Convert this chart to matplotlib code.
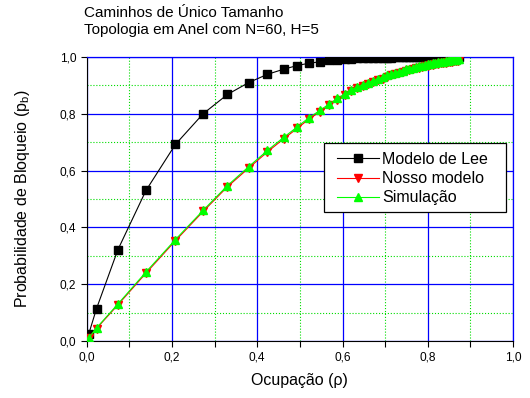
import matplotlib
matplotlib.use("Agg")
import matplotlib.pyplot as plt
from matplotlib.patches import Rectangle
from matplotlib.ticker import MultipleLocator, FuncFormatter

plt.rcParams['font.family'] = ['Liberation Sans', 'DejaVu Sans']

# occupancy (rho) values shared by all three series
rho = [0.005, 0.023, 0.073, 0.139, 0.208, 0.273, 0.330, 0.380, 0.424, 0.462,
       0.494, 0.521, 0.547, 0.569, 0.588, 0.605, 0.619, 0.635, 0.648, 0.660,
       0.672, 0.683, 0.694, 0.704, 0.714, 0.723, 0.732, 0.741, 0.749, 0.757,
       0.765, 0.772, 0.779, 0.786, 0.793, 0.800, 0.806, 0.812, 0.818, 0.824,
       0.830, 0.836, 0.842, 0.847, 0.852, 0.857, 0.862, 0.866, 0.870, 0.874]

lee = [0.026, 0.114, 0.321, 0.530, 0.692, 0.800, 0.868, 0.910, 0.939, 0.957,
       0.970, 0.978, 0.983, 0.988, 0.990, 0.992, 0.994, 0.995, 0.996, 0.996,
       0.997, 0.997, 0.998, 0.998, 0.998, 0.999, 0.999, 0.999, 0.999, 0.999,
       0.999, 1.000, 1.000, 1.000, 1.000, 1.000, 1.000, 1.000, 1.000, 1.000,
       1.000, 1.000, 1.000, 1.000, 1.000, 1.000, 1.000, 1.000, 1.000, 1.000]

nosso = [0.010, 0.044, 0.127, 0.239, 0.353, 0.456, 0.543, 0.609, 0.666, 0.712,
         0.749, 0.781, 0.807, 0.830, 0.849, 0.865, 0.880, 0.890, 0.898, 0.905,
         0.912, 0.918, 0.924, 0.930, 0.935, 0.939, 0.943, 0.947, 0.951, 0.954,
         0.957, 0.960, 0.963, 0.965, 0.967, 0.969, 0.971, 0.973, 0.975, 0.976,
         0.978, 0.979, 0.980, 0.982, 0.983, 0.984, 0.985, 0.986, 0.987, 0.988]

simulacao = [0.011, 0.046, 0.130, 0.243, 0.357, 0.460, 0.547, 0.614, 0.671, 0.717,
             0.754, 0.786, 0.812, 0.835, 0.854, 0.870, 0.885, 0.895, 0.903, 0.910,
             0.917, 0.923, 0.929, 0.935, 0.940, 0.944, 0.948, 0.952, 0.956, 0.959,
             0.962, 0.965, 0.968, 0.970, 0.972, 0.974, 0.976, 0.978, 0.980, 0.981,
             0.983, 0.984, 0.985, 0.987, 0.988, 0.989, 0.990, 0.991, 0.992, 0.993]

fig = plt.figure(figsize=(5.3, 3.98), dpi=100)
ax = fig.add_axes([0.1636, 0.1432, 0.8044, 0.7136])

ax.plot(rho, lee, color="black", lw=0.8, marker="s", ms=5.5,
        label="Modelo de Lee", zorder=3)
ax.plot(rho, nosso, color="red", lw=0.8, marker="v", ms=6,
        label="Nosso modelo", zorder=4)
ax.plot(rho, simulacao, color="#00ff00", lw=0.8, marker="^", ms=6,
        label="Simulação", zorder=5)

ax.set_xlim(0, 1)
ax.set_ylim(0, 1)
ax.xaxis.set_major_locator(MultipleLocator(0.2))
ax.xaxis.set_minor_locator(MultipleLocator(0.1))
ax.yaxis.set_major_locator(MultipleLocator(0.2))
ax.yaxis.set_minor_locator(MultipleLocator(0.1))
comma = FuncFormatter(lambda v, p: ("%.1f" % v).replace(".", ","))
ax.xaxis.set_major_formatter(comma)
ax.yaxis.set_major_formatter(comma)

ax.grid(True, which="major", color="#0000ff", lw=0.9, ls="-", zorder=1)
ax.grid(True, which="minor", color="#00dd00", lw=0.8, ls=":", zorder=1)
ax.set_axisbelow(True)

ax.tick_params(axis="both", which="major", direction="out", length=4,
               labelsize=8.6, width=0.8)
ax.tick_params(axis="x", which="minor", direction="out", length=4, width=0.8)
ax.tick_params(axis="y", which="minor", length=0)
for s in ["top", "right"]:
    ax.spines[s].set_color("#0000ff")
    ax.spines[s].set_linewidth(0.9)

ax.set_xlabel("Ocupação (ρ)", fontsize=11.5, labelpad=7)
ax.set_ylabel("Probabilidade de Bloqueio (p$_\\mathregular{b}$)", fontsize=11.5,
              labelpad=20)

# legend box drawn separately (wider side padding than top/bottom)
box = Rectangle((0.556, 0.455), 0.427, 0.241, transform=ax.transAxes,
                facecolor="white", edgecolor="black", lw=0.9, zorder=9)
ax.add_patch(box)
leg = ax.legend(loc="upper left", bbox_to_anchor=(0.588, 0.666), fontsize=11.5,
                frameon=False, handlelength=2.6, borderpad=0,
                labelspacing=0.27, handletextpad=0.2, borderaxespad=0)
leg.set_zorder(10)

fig.text(84 / 530, 1 - 6 / 398,
         "Caminhos de Único Tamanho\nTopologia em Anel com N=60, H=5",
         ha="left", va="top", fontsize=11, linespacing=1.3)

fig.savefig("out.png", dpi=100)
